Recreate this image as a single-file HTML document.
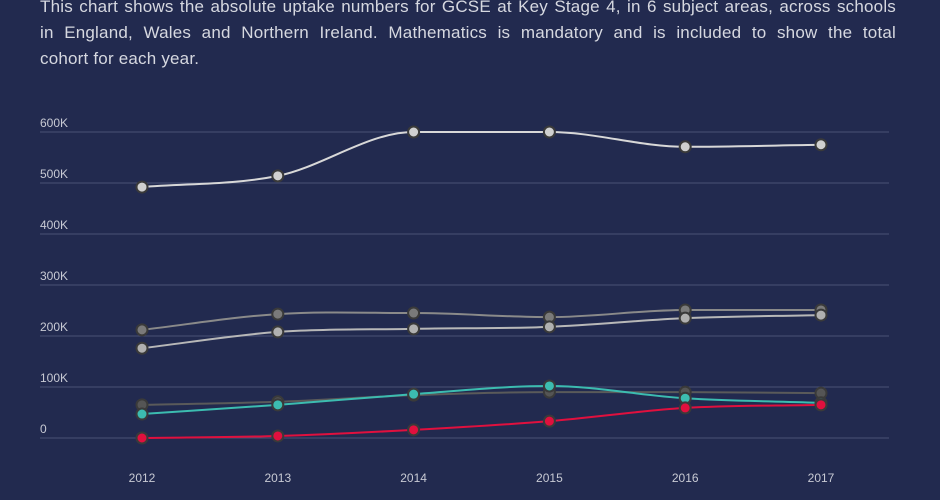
<!DOCTYPE html>
<html><head><meta charset="utf-8"><style>
body{margin:0;width:940px;height:500px;background:#222a4f;overflow:hidden;font-family:"Liberation Sans",sans-serif}
#desc{position:absolute;left:40px;top:-6px;width:856px;color:#d6d8e0;font-size:17px;line-height:26px;margin:0;letter-spacing:0.2px}
#desc div{white-space:nowrap}
#desc .j{text-align:justify;text-align-last:justify;white-space:normal}
svg{position:absolute;left:0;top:0}
</style></head><body>
<div id="desc">
<div class="j">This chart shows the absolute uptake numbers for GCSE at Key Stage 4, in 6 subject areas, across schools</div>
<div class="j">in England, Wales and Northern Ireland. Mathematics is mandatory and is included to show the total</div>
<div>cohort for each year.</div>
</div>
<svg id="chart" width="940" height="500"></svg>
<script>
const years=["2012","2013","2014","2015","2016","2017"];
const yTicks=[0,100,200,300,400,500,600];
const mathematics=[492,514,600,600,571,575];
const seriesB=[212,243,245,237,251,251];
const seriesC=[176,208,214,218,235,241];
const seriesD=[65,71,84,90,90,88];
const seriesE=[47,65,86,102,78,69];
const seriesF=[0,4,16,33,59,65];
const series=[
 {name:"series-d",data:seriesD,color:"#5a5a5a",fill:"#555"},
 {name:"series-e",data:seriesE,color:"#3cbcb0",fill:"#3cbcb0"},
 {name:"series-f",data:seriesF,color:"#e0103e",fill:"#e0103e"},
 {name:"series-b",data:seriesB,color:"#8a8a8a",fill:"#7a7a7a"},
 {name:"series-c",data:seriesC,color:"#b8b8b8",fill:"#b0b0b0"},
 {name:"mathematics",data:mathematics,color:"#d8d8d8",fill:"#d0d0d0"}
];
const NS="http://www.w3.org/2000/svg",svg=document.getElementById('chart');
const x=i=>142+i*135.8, y=v=>438-v*0.51;
function mk(t,a,p){const e=document.createElementNS(NS,t);for(const k in a)e.setAttribute(k,a[k]);(p||svg).appendChild(e);return e;}
yTicks.forEach(t=>{
 const g=mk('line',{x1:40,x2:889,y1:y(t),y2:y(t),stroke:"#4a5275","stroke-width":1});
 
 
 const l=mk('text',{x:40,y:y(t)-5,fill:"#c8cad4","font-size":12,"font-family":"Liberation Sans"});
 l.textContent=t===0?"0":t+"K";
 
 
});
years.forEach((yr,i)=>{
 const l=mk('text',{x:x(i),y:482,fill:"#c8cad4","font-size":12,"text-anchor":"middle","font-family":"Liberation Sans"});
 l.textContent=yr;
 
 
});
function path(d){
 const n=d.length,px=d.map((v,i)=>x(i)),py=d.map(v=>y(v));
 const dl=[],m=[];
 for(let i=0;i<n-1;i++)dl.push((py[i+1]-py[i])/(px[i+1]-px[i]));
 for(let i=0;i<n;i++){
  if(i===0)m.push(dl[0]);else if(i===n-1)m.push(dl[n-2]);
  else m.push(dl[i-1]*dl[i]<=0?0:(dl[i-1]+dl[i])/2);
 }
 let s=`M${px[0]},${py[0]}`;
 for(let i=0;i<n-1;i++){const h=(px[i+1]-px[i])/3;
  s+=` C${px[i]+h},${py[i]+m[i]*h} ${px[i+1]-h},${py[i+1]-m[i+1]*h} ${px[i+1]},${py[i+1]}`;}
 return s;
}
series.forEach(s=>{
 const g=mk('g',{});
 
 
 const p=mk('path',{d:path(s.data),fill:"none",stroke:s.color,"stroke-width":2},g);
 
 
 s.data.forEach((v,i)=>{
  const c=mk('circle',{cx:x(i),cy:y(v),r:5.5,fill:s.fill,stroke:"#3a3a3a","stroke-width":2},g);
  
  
 });
});
</script>
</body></html>
